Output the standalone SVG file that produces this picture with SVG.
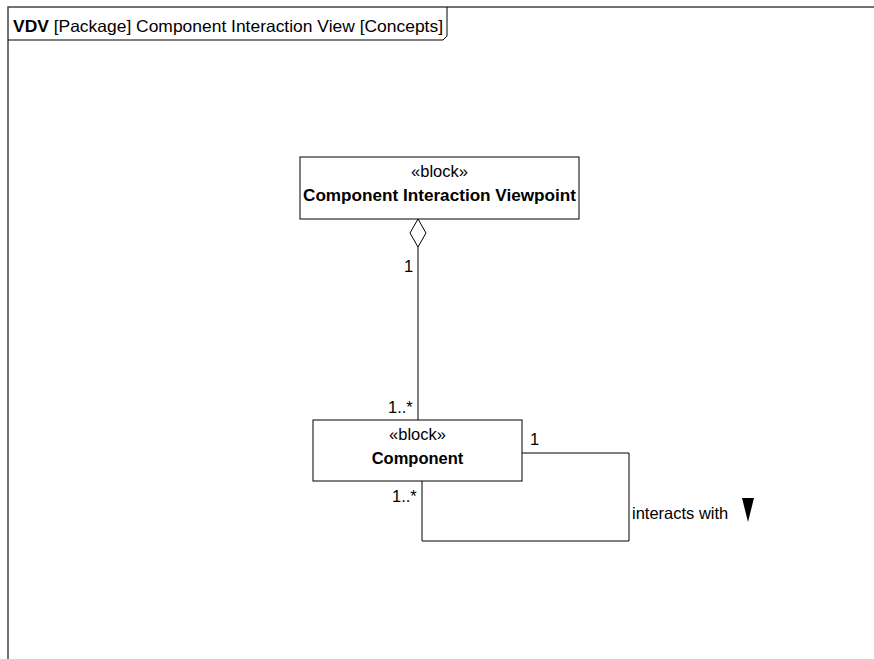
<svg xmlns="http://www.w3.org/2000/svg" width="874" height="659" viewBox="0 0 874 659">
<style>
text{font-family:"Liberation Sans",Arial,sans-serif;font-size:16.5px;fill:#000}
.b{font-weight:bold}
.blk{fill:#fff;stroke:#000;stroke-width:1}
.ln{fill:none;stroke:#000;stroke-width:1}
.frame{fill:none;stroke:#444;stroke-width:1.5}
</style>
<rect width="874" height="659" fill="#fff"/>
<g id="frame">
<path class="frame" d="M8,665 L8,7 L880,7"/>
<path class="ln" d="M8,40 L443,40 L447,36 L447,7"/>
<text x="13" y="32" textLength="430" lengthAdjust="spacingAndGlyphs"><tspan class="b">VDV</tspan> [Package] Component Interaction View [Concepts]</text>
</g>
<g id="connectors">
<polygon points="418,219 426,233 418,247 410,233" fill="#fff" stroke="#000"/>
<line class="ln" x1="418" y1="247" x2="418" y2="420"/>
<text x="404" y="272">1</text>
<text x="388" y="413">1..*</text>
<polyline class="ln" points="522,453 629,453 629,541 422,541 422,481"/>
<text x="530" y="445">1</text>
<text x="392" y="502">1..*</text>
<text x="632" y="519">interacts with</text>
<polygon points="742,498 754,498 748,522" fill="#000"/>
</g>
<g id="viewpoint">
<rect class="blk" x="300" y="157" width="279" height="62"/>
<text x="439.5" y="177" text-anchor="middle">«block»</text>
<text class="b" x="439.5" y="201" text-anchor="middle" textLength="273" lengthAdjust="spacingAndGlyphs">Component Interaction Viewpoint</text>
</g>
<g id="component">
<rect class="blk" x="313" y="420" width="209" height="61"/>
<text x="417.5" y="440" text-anchor="middle">«block»</text>
<text class="b" x="417.5" y="464" text-anchor="middle">Component</text>
</g>
</svg>
